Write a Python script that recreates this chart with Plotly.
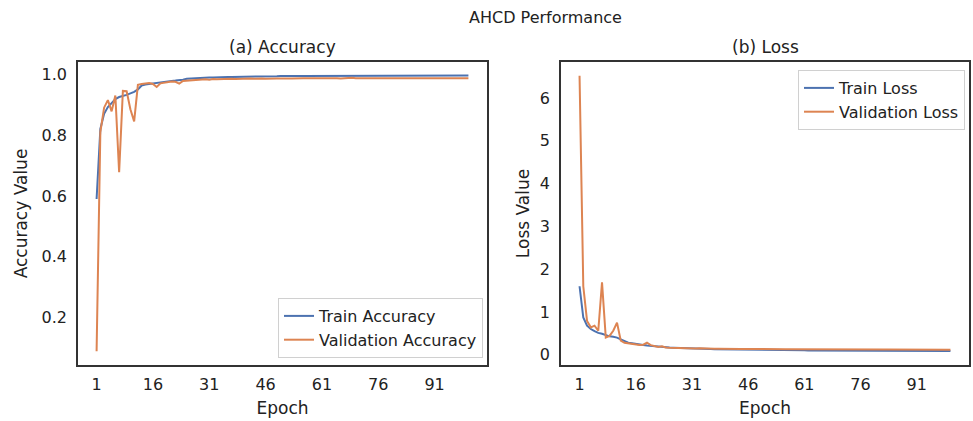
import plotly.graph_objects as go

epochs = list(range(1, 101))
x_ticks = [1, 16, 31, 46, 61, 76, 91]
acc_ticks = [0.2, 0.4, 0.6, 0.8, 1.0]
loss_ticks = [0, 1, 2, 3, 4, 5, 6]

train_acc = [0.590,0.820,0.870,0.892,0.905,0.918,0.925,0.928,0.932,0.937,
 0.942,0.950,0.963,0.966,0.968,0.969,0.971,0.972,0.974,0.976,
 0.978,0.979,0.980,0.982,0.985,0.986,0.986,0.987,0.988,0.988,
 0.989,0.989,0.990,0.990,0.990,0.991,0.991,0.991,0.992,0.991,
 0.992,0.992,0.992,0.993,0.992,0.993,0.993,0.993,0.993,0.994,
 0.993,0.994,0.994,0.993,0.994,0.994,0.994,0.995,0.994,0.994,
 0.995,0.994,0.995,0.995,0.994,0.995,0.995,0.995,0.994,0.995,
 0.995,0.995,0.996,0.995,0.995,0.995,0.996,0.995,0.995,0.996,
 0.995,0.996,0.995,0.996,0.996,0.995,0.996,0.996,0.996,0.995,
 0.996,0.996,0.996,0.996,0.995,0.996,0.996,0.996,0.996,0.996]

val_acc = [0.090,0.810,0.890,0.915,0.878,0.930,0.678,0.945,0.944,0.885,
 0.845,0.965,0.968,0.970,0.971,0.968,0.958,0.970,0.972,0.975,
 0.976,0.975,0.969,0.978,0.979,0.980,0.981,0.980,0.982,0.983,
 0.982,0.984,0.983,0.984,0.985,0.984,0.985,0.984,0.985,0.986,
 0.985,0.986,0.985,0.986,0.986,0.985,0.986,0.987,0.986,0.986,
 0.987,0.986,0.986,0.987,0.986,0.987,0.987,0.986,0.987,0.987,
 0.986,0.987,0.987,0.988,0.987,0.986,0.987,0.987,0.988,0.987,
 0.987,0.986,0.987,0.988,0.987,0.987,0.988,0.987,0.987,0.988,
 0.987,0.987,0.988,0.987,0.988,0.987,0.987,0.988,0.987,0.988,
 0.987,0.988,0.987,0.988,0.987,0.988,0.987,0.987,0.988,0.987]

train_loss = [1.600,0.870,0.680,0.600,0.550,0.510,0.490,0.460,0.430,0.420,
 0.400,0.360,0.310,0.280,0.270,0.250,0.240,0.225,0.215,0.205,
 0.198,0.190,0.183,0.176,0.170,0.165,0.160,0.156,0.152,0.148,
 0.145,0.142,0.139,0.137,0.134,0.132,0.130,0.128,0.126,0.124,
 0.122,0.121,0.119,0.118,0.116,0.115,0.114,0.113,0.112,0.111,
 0.110,0.109,0.108,0.107,0.106,0.106,0.105,0.104,0.103,0.103,
 0.102,0.101,0.101,0.100,0.099,0.099,0.098,0.098,0.097,0.097,
 0.096,0.096,0.095,0.095,0.094,0.094,0.094,0.093,0.093,0.092,
 0.092,0.092,0.091,0.091,0.091,0.090,0.090,0.090,0.089,0.089,
 0.089,0.088,0.088,0.088,0.088,0.087,0.087,0.087,0.087,0.086]

val_loss = [6.520,1.600,0.790,0.640,0.680,0.560,1.690,0.400,0.440,0.560,
 0.750,0.330,0.280,0.265,0.250,0.240,0.230,0.235,0.280,0.225,
 0.205,0.180,0.195,0.170,0.165,0.160,0.158,0.155,0.160,0.150,
 0.148,0.146,0.150,0.144,0.142,0.141,0.140,0.142,0.138,0.137,
 0.136,0.136,0.135,0.134,0.135,0.133,0.132,0.132,0.131,0.132,
 0.130,0.130,0.129,0.129,0.130,0.128,0.128,0.127,0.128,0.127,
 0.126,0.127,0.126,0.126,0.125,0.126,0.125,0.125,0.124,0.125,
 0.124,0.124,0.124,0.123,0.124,0.123,0.123,0.123,0.122,0.123,
 0.122,0.122,0.122,0.121,0.122,0.121,0.121,0.121,0.121,0.120,
 0.121,0.120,0.120,0.120,0.120,0.119,0.120,0.119,0.119,0.119]

BLUE = "#4c72b0"
ORANGE = "#dd8452"
FONT = "DejaVu Sans"
W, H = 973, 421

fig = go.Figure()
fig.add_trace(go.Scatter(x=epochs, y=train_acc, mode="lines", name="Train Accuracy",
                         line=dict(color=BLUE, width=2), xaxis="x", yaxis="y", legend="legend"))
fig.add_trace(go.Scatter(x=epochs, y=val_acc, mode="lines", name="Validation Accuracy",
                         line=dict(color=ORANGE, width=2), xaxis="x", yaxis="y", legend="legend"))
fig.add_trace(go.Scatter(x=epochs, y=train_loss, mode="lines", name="Train Loss",
                         line=dict(color=BLUE, width=2), xaxis="x2", yaxis="y2", legend="legend2"))
fig.add_trace(go.Scatter(x=epochs, y=val_loss, mode="lines", name="Validation Loss",
                         line=dict(color=ORANGE, width=2), xaxis="x2", yaxis="y2", legend="legend2"))

ytop = 1 - 62 / H
ybot = 1 - 365 / H
axis_common = dict(showline=True, mirror=True, linecolor="#333333", linewidth=1.5,
                   showgrid=False, zeroline=False, ticks="outside",
                   tickcolor="rgba(0,0,0,0)", automargin=False,
                   tickfont=dict(family=FONT, size=16, color="#222"))

fig.update_layout(
    width=W, height=H,
    margin=dict(l=0, r=0, t=0, b=0),
    paper_bgcolor="white", plot_bgcolor="white",
    font=dict(family=FONT, color="#222"),
    xaxis=dict(domain=[78 / W, 487 / W], range=[-3.95, 104.95], tickvals=x_ticks, ticklen=4,
               title=dict(text="Epoch", font=dict(size=17), standoff=9), anchor="y", **axis_common),
    yaxis=dict(domain=[ybot, ytop], range=[0.045, 1.04], tickvals=acc_ticks, tickformat=".1f", ticklen=6,
               title=dict(text="Accuracy Value", font=dict(size=17), standoff=10), anchor="x", **axis_common),
    xaxis2=dict(domain=[561 / W, 969 / W], range=[-3.95, 104.95], tickvals=x_ticks, ticklen=4,
                title=dict(text="Epoch", font=dict(size=17), standoff=9), anchor="y2", **axis_common),
    yaxis2=dict(domain=[ybot, ytop], range=[-0.24, 6.84], tickvals=loss_ticks, ticklen=6,
                title=dict(text="Loss Value", font=dict(size=17), standoff=6), anchor="x2", **axis_common),
    legend=dict(x=483 / W, y=1 - 358 / H, xanchor="right", yanchor="bottom",
                bgcolor="white", bordercolor="#d0d0d0", borderwidth=1,
                font=dict(family=FONT, size=16, color="#222"), tracegroupgap=0),
    legend2=dict(x=965 / W, y=1 - 70 / H, xanchor="right", yanchor="top",
                 bgcolor="white", bordercolor="#d0d0d0", borderwidth=1,
                 font=dict(family=FONT, size=16, color="#222"), tracegroupgap=0),
    annotations=[
        dict(text="AHCD Performance", x=545 / W, y=1 - 17 / H, xref="paper", yref="paper",
             showarrow=False, font=dict(family=FONT, size=16, color="#222"), xanchor="center", yanchor="middle"),
        dict(text="(a) Accuracy", x=(78 + 487) / 2 / W, y=1 - 47 / H, xref="paper", yref="paper",
             showarrow=False, font=dict(family=FONT, size=17, color="#222"), xanchor="center", yanchor="middle"),
        dict(text="(b) Loss", x=(561 + 969) / 2 / W, y=1 - 47 / H, xref="paper", yref="paper",
             showarrow=False, font=dict(family=FONT, size=17, color="#222"), xanchor="center", yanchor="middle"),
    ],
)

fig.write_html("out.html", config={"displayModeBar": False},
               post_script="document.body.style.margin='0';document.body.style.overflow='hidden';")
